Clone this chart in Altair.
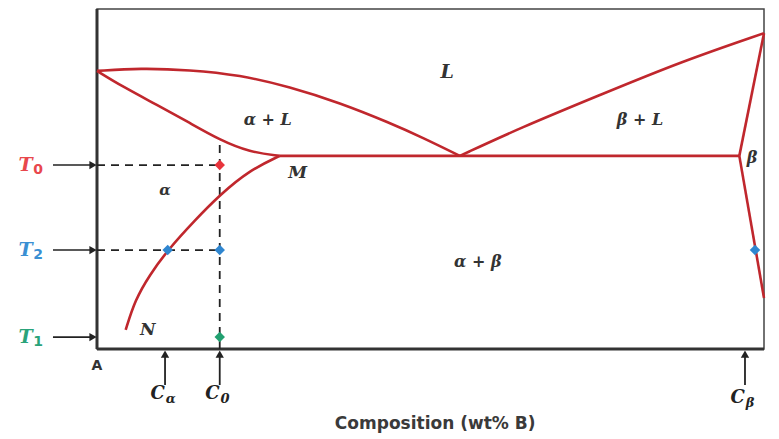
import altair as alt
import pandas as pd

# Phase boundary curves (composition wt% B, temperature in arbitrary units 0-100)
liq_left_x = [0, 6.45, 13.9, 21.4, 28.9, 36.4, 43.9, 48.9, 54.4]
liq_left_t = [81.8, 82.6, 82.1, 80.6, 77.1, 72.4, 66.5, 62.1, 56.8]
sol_left_x = [0, 3.9, 9.0, 13.9, 18.4, 22.9, 27.4]
sol_left_t = [81.8, 77.1, 71.8, 66.5, 61.5, 57.9, 56.8]
eut_x = [27.4, 96.3]
eut_t = [56.8, 56.8]
liq_right_x = [54.4, 63.4, 75.4, 87.4, 100]
liq_right_t = [56.8, 65.0, 74.7, 84.4, 92.9]
sol_right_x = [96.3, 100]
sol_right_t = [56.8, 92.9]
solv_beta_x = [96.3, 100]
solv_beta_t = [56.8, 15.0]
solv_alpha_x = [4.3, 5.7, 7.9, 10.6, 14.7, 18.4, 22.9, 27.4]
solv_alpha_t = [5.6, 14.4, 21.8, 29.1, 37.9, 45.3, 52.6, 56.8]

# Temperatures and compositions of interest
T_subs = ["0", "2", "1"]
T_vals = [54.1, 29.1, 3.5]
T_colors = ["#e8474c", "#3a8fd3", "#2aa37a"]
C_names = ["C", "C", "C"]
C_subs = ["α", "0", "β"]
C_vals = [10.2, 18.4, 97.15]
C0 = 18.4
C0_top = 61.5

pts_x = [18.4, 10.6, 18.4, 98.65, 18.4]
pts_t = [54.1, 29.1, 29.1, 29.1, 3.5]
pts_c = ["#e8343c", "#2f86d0", "#2f86d0", "#2f86d0", "#22a070"]

reg_text = ["L", "α + L", "β + L", "α", "M", "α + β", "β", "N"]
reg_x = [52.5, 25.6, 81.4, 10.2, 30.1, 57.1, 98.2, 7.6]
reg_t = [81.5, 67.4, 67.4, 46.8, 51.8, 25.6, 56.2, 5.6]
reg_size = [19, 16, 16, 15, 17, 16, 16, 17]

RED = "#c0272d"

rows = []
for name, xs_, ts_ in [("liqL", liq_left_x, liq_left_t), ("solL", sol_left_x, sol_left_t),
                       ("eut", eut_x, eut_t), ("liqR", liq_right_x, liq_right_t),
                       ("solR", sol_right_x, sol_right_t), ("solvB", solv_beta_x, solv_beta_t),
                       ("solvA", solv_alpha_x, solv_alpha_t)]:
    for i, (x, t) in enumerate(zip(xs_, ts_)):
        rows.append({"curve": name, "x": x, "t": t, "i": i})
curves = pd.DataFrame(rows)

xs = alt.Scale(domain=[0, 100], nice=False, zero=False)
ys = alt.Scale(domain=[0, 100], nice=False, zero=False)


def X(f="x"):
    return alt.X(f, type="quantitative", scale=xs, axis=None)


def Y(f="t"):
    return alt.Y(f, type="quantitative", scale=ys, axis=None)


curve_layer = alt.Chart(curves).mark_line(
    color=RED, strokeWidth=2.6, interpolate="basis", clip=False
).encode(x=X(), y=Y(), detail="curve:N", order="i:Q")

# dashed guide lines
dash_df = pd.DataFrame({
    "x": [0, 0, C0], "x2": [C0, C0, C0],
    "t": [T_vals[0], T_vals[1], 0], "t2": [T_vals[0], T_vals[1], C0_top]})
dash = alt.Chart(dash_df).mark_rule(color="#222", strokeWidth=1.8, strokeDash=[8, 6]).encode(
    x=X(), x2="x2:Q", y=Y(), y2="t2:Q")

# frame: thick left and bottom
frame_df = pd.DataFrame({"x": [0, 0], "x2": [0, 100], "t": [0, 0], "t2": [100, 0]})
frame = alt.Chart(frame_df).mark_rule(color="#333", strokeWidth=3).encode(
    x=X(), x2="x2:Q", y=Y(), y2="t2:Q")

# left arrows
larr_df = pd.DataFrame({"x": [-6.6] * 3, "x2": [-0.6] * 3, "t": T_vals})
larr = alt.Chart(larr_df).mark_rule(color="#222", strokeWidth=1.6, clip=False).encode(
    x=X(), x2="x2:Q", y=Y())
lhead = alt.Chart(larr_df).mark_point(shape="triangle-right", filled=True, color="#222",
                                      size=70, opacity=1, clip=False).encode(
    x=X("x2"), y=Y())

Tlab_df = pd.DataFrame({"t": T_vals, "c": T_colors, "main": ["T"] * 3, "sub": T_subs,
                        "xm": [-10.7] * 3, "xs": [-9.55] * 3})
Tmain = alt.Chart(Tlab_df).mark_text(font="DejaVu Serif", fontStyle="italic", fontWeight="bold",
                                     fontSize=19, align="center", baseline="middle",
                                     clip=False).encode(
    x=X("xm"), y=Y(), color=alt.Color("c:N", scale=None), text="main:N")
Tsub = alt.Chart(Tlab_df).mark_text(font="DejaVu Sans", fontWeight="bold", fontSize=14,
                                    align="left", baseline="middle", dy=5, clip=False).encode(
    x=X("xs"), y=Y(), color=alt.Color("c:N", scale=None), text="sub:N")

# bottom arrows
barr_df = pd.DataFrame({"x": C_vals, "t": [-10.6] * 3, "t2": [-1.5] * 3})
barr = alt.Chart(barr_df).mark_rule(color="#222", strokeWidth=1.8, clip=False).encode(
    x=X(), y=Y(), y2="t2:Q")
bhead = alt.Chart(barr_df).mark_point(shape="triangle-up", filled=True, color="#222",
                                      size=70, opacity=1, clip=False).encode(
    x=X(), y=Y("t2"))

Clab_df = pd.DataFrame({"x": [c - 1.1 for c in C_vals], "xs": [c + 0.1 for c in C_vals],
                        "main": C_names, "sub": C_subs,
                        "t": [-13.2, -13.2, -14.4]})
Cmain = alt.Chart(Clab_df).mark_text(font="DejaVu Serif", fontStyle="italic", fontWeight="bold",
                                     fontSize=18, color="#222", align="center",
                                     baseline="middle", clip=False).encode(
    x=X(), y=Y(), text="main:N")
Csub = alt.Chart(Clab_df).mark_text(font="DejaVu Serif", fontStyle="italic", fontWeight="bold",
                                    fontSize=13, color="#222", align="left",
                                    baseline="middle", dy=5, clip=False).encode(
    x=X("xs"), y=Y(), text="sub:N")

# other text
misc_df = pd.DataFrame({"x": [0, 50.7], "t": [-5.0, -22.2],
                        "txt": ["A", "Composition (wt% B)"]})
Alab = alt.Chart(misc_df.iloc[[0]]).mark_text(font="DejaVu Sans", fontWeight="bold", fontSize=14,
                                              color="#333", clip=False).encode(
    x=X(), y=Y(), text="txt:N")
title = alt.Chart(misc_df.iloc[[1]]).mark_text(font="DejaVu Sans", fontWeight="bold",
                                               fontSize=17, color="#3a3a3a",
                                               clip=False).encode(
    x=X(), y=Y(), text="txt:N")

reg_df = pd.DataFrame({"x": reg_x, "t": reg_t, "txt": reg_text, "fs": reg_size})
regions = alt.Chart(reg_df).mark_text(font="DejaVu Serif", fontStyle="italic", fontWeight="bold",
                                      color="#333", clip=False).encode(
    x=X(), y=Y(), text="txt:N", size=alt.Size("fs:Q", scale=None, legend=None))

pts_df = pd.DataFrame({"x": pts_x, "t": pts_t, "c": pts_c})
pts = alt.Chart(pts_df).mark_point(shape="diamond", filled=True, size=110, opacity=1,
                                   clip=False).encode(
    x=X(), y=Y(), color=alt.Color("c:N", scale=None))

chart = alt.layer(frame, dash, curve_layer, larr, lhead, Tmain, Tsub, barr, bhead,
                  Cmain, Csub, Alab, title, regions, pts).properties(
    width=667, height=340,
    autosize=alt.AutoSizeParams(type="none"),
    padding={"left": 89, "top": 1, "right": 7, "bottom": 88},
    background="white",
).configure_view(stroke="#444", strokeWidth=1.5)

chart.save("out.html", embed_options={"renderer": "svg", "actions": False})
